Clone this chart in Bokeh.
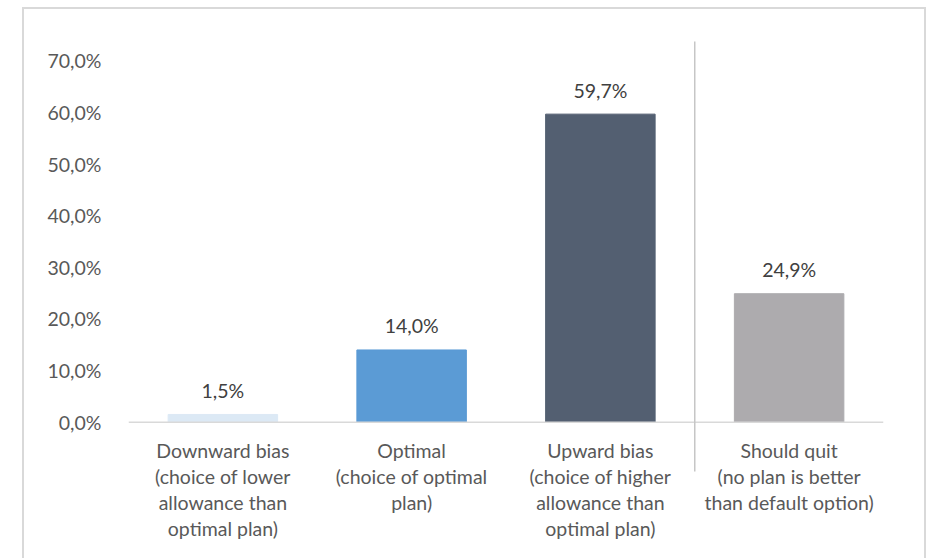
from bokeh.plotting import figure
from bokeh.models import Range1d, FixedTicker, BoxAnnotation, ColumnDataSource, Span
from bokeh.core.properties import value
from bokeh.embed import file_html
from bokeh.resources import INLINE

# Share of choices by category (percent)
categories = [
    "Downward bias\n(choice of lower\nallowance than\noptimal plan)",
    "Optimal\n(choice of optimal\nplan)",
    "Upward bias\n(choice of higher\nallowance than\noptimal plan)",
    "Should quit\n(no plan is better\nthan default option)",
]
shares = [1.5, 14.0, 59.7, 24.9]
bar_colors = ["#DCE9F5", "#5B9BD5", "#535F71", "#ADABAE"]
y_ticks = [0, 10, 20, 30, 40, 50, 60, 70]

FONT = "Lato"
TEXT = "#595959"
FS = "19.5px"

def pct(v):
    return f"{v:.1f}%".replace(".", ",")

xs = [i + 0.5 for i in range(len(categories))]
src = ColumnDataSource(dict(
    x=xs, top=shares, zero=[0] * len(xs), color=bar_colors,
    label=[pct(v) for v in shares], cat=categories,
))

p = figure(
    width=904, height=551, output_backend="svg", toolbar_location=None,
    x_range=Range1d(0, len(categories)), y_range=Range1d(-26.8, 73.97),
    min_border_left=104, min_border_right=45, min_border_top=31, min_border_bottom=0,
)
# light chart border (open at the bottom)
p.styles = {
    "margin-left": "22px", "margin-top": "7px",
    "border-left": "2px solid #D9D9D9", "border-right": "2px solid #D9D9D9",
    "border-top": "2px solid #D9D9D9",
}
p.background_fill_color = "white"
p.border_fill_color = "white"
p.outline_line_color = None
p.grid.visible = False
p.xaxis.visible = False

p.vbar(x="x", top="top", width=0.58, bottom=0, color="color", source=src)
p.text(x="x", y="top", text="label", source=src, text_align="center",
       text_baseline="middle", y_offset=-24, text_font=value(FONT),
       text_font_size=FS, text_color="#404040")

# baseline and category captions
p.add_layout(Span(location=0, dimension="width", line_color="#D9D9D9", line_width=1.5))
p.text(x="x", y="zero", text="cat", source=src, text_align="center",
       text_baseline="top", y_offset=17, text_font=value(FONT),
       text_font_size=FS, text_color=TEXT, text_line_height=1.13)

# y axis: labels only
ya = p.yaxis[0]
ya.ticker = FixedTicker(ticks=y_ticks)
ya.major_label_overrides = {t: pct(t) for t in y_ticks}
ya.axis_line_color = None
ya.major_tick_line_color = None
ya.minor_tick_line_color = None
ya.major_label_standoff = 21
ya.major_label_text_font = FONT
ya.major_label_text_font_size = FS
ya.major_label_text_color = TEXT

# divider between the bias groups and the "should quit" group
p.add_layout(BoxAnnotation(
    left=3, right=3, left_units="data", right_units="data",
    top=30, bottom=460, top_units="canvas", bottom_units="canvas",
    fill_color=None, line_color="#C6C6C6", line_alpha=1.0, line_width=1.5,
))

open("out.html", "w").write(file_html(p, INLINE))
